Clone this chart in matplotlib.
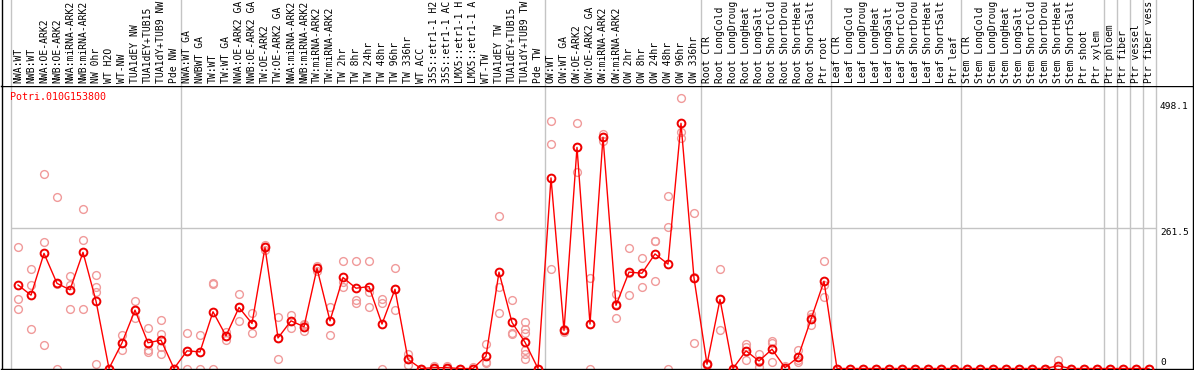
import matplotlib
matplotlib.use("Agg")
import matplotlib.pyplot as plt
import numpy as np

gene = "Potri.010G153800"

samples = [
    "NWA:WT", "NWB:WT", "NWA:OE-ARK2", "NWB:OE-ARK2", "NWA:miRNA-ARK2", "NWB:miRNA-ARK2",
    "NW 0hr", "WT H2O", "WT-NW", "TUA1dEY NW", "TUA1dEY+TUB15 NW", "TUA1dY+TUB9 NW", "Pde NW",
    "NWA:WT GA", "NWBWT GA", "TW:WT", "TW:WT GA", "NWA:OE-ARK2 GA", "NWB:OE-ARK2 GA",
    "TW:OE-ARK2", "TW:OE-ARK2 GA", "NWA:miRNA-ARK2", "NWB:miRNA-ARK2", "TW:miRNA-ARK2",
    "TW:miRNA-ARK2", "TW 2hr", "TW 8hr", "TW 24hr", "TW 48hr", "TW 96hr", "TW 336hr", "WT ACC",
    "35S::etr1-1 H2O", "35S::etr1-1 ACC", "LMX5::etr1-1 H2O", "LMX5::etr1-1 ACC", "WT-TW",
    "TUA1dEY TW", "TUA1dEY+TUB15 TW", "TUA1dY+TUB9 TW", "Pde TW",
    "OW:WT", "OW:WT GA", "OW:OE-ARK2", "OW:OE-ARK2 GA", "OW:miRNA-ARK2", "OW:miRNA-ARK2",
    "OW 2hr", "OW 8hr", "OW 24hr", "OW 48hr", "OW 96hr", "OW 336hr",
    "Root CTR", "Root LongCold", "Root LongDrought", "Root LongHeat", "Root LongSalt",
    "Root ShortCold", "Root ShortDrought", "Root ShortHeat", "Root ShortSalt", "Ptr root",
    "Leaf CTR", "Leaf LongCold", "Leaf LongDrought", "Leaf LongHeat", "Leaf LongSalt",
    "Leaf ShortCold", "Leaf ShortDrought", "Leaf ShortHeat", "Leaf ShortSalt", "Ptr leaf",
    "Stem CTR", "Stem LongCold", "Stem LongDrought", "Stem LongHeat", "Stem LongSalt",
    "Stem ShortCold", "Stem ShortDrought", "Stem ShortHeat", "Stem ShortSalt", "Ptr shoot",
    "Ptr xylem", "Ptr phloem", "Ptr fiber", "Ptr vessel", "Ptr fiber vessel",
]

# number of samples in each block (separated by grey lines)
group_sizes = [13, 28, 12, 10, 10, 11, 1, 1, 1, 1]

means = [
    156, 137, 215, 159, 147, 217, 126, 0, 48, 109, 48, 53, 0,
    33, 31, 106, 61, 114, 84, 226, 57, 89, 78, 187, 89, 170, 150, 153, 83, 148, 17, 0,
    1.5, 1.5, 0, 0, 23, 180, 86, 49, 0,
    356, 71, 413, 83, 432, 118, 180, 178, 214, 195, 458, 169,
    8, 129, 0, 33, 14, 36, 1.5, 21, 92, 163,
    0, 0, 0, 0, 0, 0, 0, 0, 0, 0,
    0, 0, 0, 0, 0, 0, 0, 5, 0, 0, 0,
    0, 0, 0, 0,
]

replicates = [
    [226, 130, 111], [186, 156, 74], [363, 236, 44], [320, 157, 0], [173, 156, 111],
    [297, 240, 112], [174, 153, 142, 8], [0, 0, 0], [63, 48, 34], [126, 109, 94],
    [75, 34, 31], [91, 64, 41, 28], [0, 0, 0],
    [66, 33, 0], [62, 31, 0], [157, 160, 0], [69, 61, 53], [140, 114, 89], [104, 84, 66],
    [231, 226, 222], [96, 57, 18], [100, 89, 76], [83, 82, 70], [192, 187, 182],
    [114, 89, 63], [201, 162, 153], [200, 128, 123], [201, 143, 114], [130, 122, 0],
    [187, 148, 109], [28, 17, 6], [0, 0, 0], [5, 0, 0], [5, 0, 0], [0, 0, 0], [2, 0, 0],
    [46, 13, 10], [285, 153, 103], [128, 66, 64], [86, 73, 67, 35, 28, 17], [0, 0, 0],
    [462, 419, 186], [74, 71, 68], [458, 414, 367], [169, 83, 0], [438, 432, 425],
    [140, 120, 94], [225, 178, 137], [206, 178, 153], [239, 239, 164], [322, 265, 0],
    [505, 442, 431], [290, 170, 47],
    [10, 8, 6], [186, 129, 72], [0, 0, 0], [45, 41, 16], [27, 12, 3], [51, 47, 13],
    [5, 0, 0], [35, 15, 13], [101, 97, 81], [201, 156, 134],
    [0, 0, 0], [0, 0, 0], [0, 0, 0], [0, 0, 0], [0, 0, 0],
    [0, 0, 0], [0, 0, 0], [0, 0, 0], [0, 0, 0], [0, 0, 0],
    [0, 0, 0], [0, 0, 0], [0, 0, 0], [0, 0, 0], [0, 0, 0],
    [0, 0, 0], [0, 0, 0], [16, 0, 0], [0, 0, 0], [0, 0, 0], [0, 0, 0],
    [0, 0, 0], [0, 0, 0], [0, 0, 0], [0, 0, 0],
]

ytick_vals = [0, 261.5, 498.1]
grid_vals = [261.5]
max_chars = 14  # sample names are cut to this width in the header

W, H = 1194, 370
fig = plt.figure(figsize=(W / 100, H / 100), dpi=100)
mono = "DejaVu Sans Mono"

# pixel layout
x0, x1 = 1.5, 1193.0
top_band = 86
bottom = 369
ax = fig.add_axes([x0 / W, (H - bottom) / H, (x1 - x0) / W, (bottom - top_band) / H])
lab = fig.add_axes([x0 / W, (H - top_band) / H, (x1 - x0) / W, top_band / H])

step, first = 13.0, 18.0
xlim = ((x0 - first) / step, (x1 - first) / step)
ppu = 0.5354
ylim = (-0.5 / ppu, -0.5 / ppu + (bottom - top_band) / ppu)

n = len(samples)
xs = np.arange(n)

for a in (ax, lab):
    a.set_xlim(*xlim)
    a.set_xticks([])
    a.set_yticks([])
    for s in a.spines.values():
        s.set_color("black")
        s.set_linewidth(1.0)
lab.set_ylim(0, 1)
lab.spines["bottom"].set_visible(False)
lab.spines["top"].set_visible(False)
ax.set_ylim(*ylim)

# block separators
edges = np.concatenate([[0], np.cumsum(group_sizes)]) - 0.5
for e in edges:
    for a in (ax, lab):
        a.axvline(e, color="#c4c4c4", lw=1.0, zorder=0)

for g in grid_vals:
    ax.hlines(g, edges[0], edges[-1], color="#c4c4c4", lw=1.0, zorder=0)

# replicate points
rx = [i for i, r in enumerate(replicates) for _ in r]
ry = [v for r in replicates for v in r]
ax.plot(rx, ry, "o", ms=5.6, mfc="none", mec="#f09a9a", mew=1.0, zorder=2)

# mean line
ax.plot(xs, means, "-", color="#ff0000", lw=1.0, zorder=3)
ax.plot(xs, means, "o", ms=5.6, mfc="none", mec="#ee0000", mew=1.4, zorder=4)

# sample names
for i, s in enumerate(samples):
    lab.text(i, 3 / top_band, s[:max_chars].rstrip(), rotation=90, ha="center", va="bottom",
             fontsize=7.0, family=mono, clip_on=True,
             transform=lab.get_xaxis_transform())

# value labels on the right
xr = (1160 - first) / step
for v in ytick_vals:
    ax.text(xr, v + (3 if v == 0 else 0), f"{v:g}", ha="left",
            va="bottom" if v == 0 else "top", fontsize=6.8, family=mono)

ax.text((9.7 - first) / step, 507, gene, color="red", ha="left", va="center",
        fontsize=7.2, family=mono)

fig.savefig("out.png", dpi=100)
